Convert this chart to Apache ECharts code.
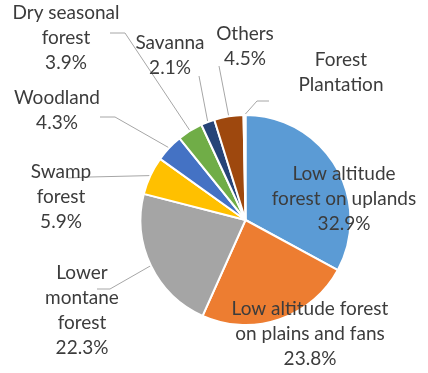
<!DOCTYPE html>
<html>
<head>
<meta charset="utf-8">
<script src="https://cdn.jsdelivr.net/npm/echarts@6/dist/echarts.min.js"></script>
<style>html,body{margin:0;padding:0;background:#fff;}#c{width:428px;height:373px;}</style>
</head>
<body>
<div id="c"></div>
<script>
const categories = ['Low altitude forest on uplands','Low altitude forest on plains and fans','Lower montane forest','Swamp forest','Woodland','Dry seasonal forest','Savanna','Others','Forest Plantation'];
const values = [32.9, 23.8, 22.3, 5.9, 4.3, 3.9, 2.1, 4.5, 0.3];
const labelTexts = ['Low altitude\nforest on uplands','Low altitude forest\non plains and fans','Lower\nmontane\nforest','Swamp\nforest','Woodland','Dry seasonal\nforest','Savanna','Others','Forest\nPlantation'];
const showPercent = [true,true,true,true,true,true,true,true,false];
const colors = ['#5B9BD5','#ED7D31','#A5A5A5','#FFC000','#4472C4','#70AD47','#264478','#9E480E','#636363'];
// label placement (text centre) and leader line bend/end points
const labelPos = [[344,199],[310,334],[82,310],[61,197],[57,110],[66,38],[170,55],[245,46],[341,72]];
const leader = [null,null,[[110,289],[97,289]],[[90,177],[68,178]],[[115,117],[100,117]],[[125,33],[110,33]],[[199,76],[199,76]],[[219,66],[219,66]],[[257,101],[269,101]]];

const chart = echarts.init(document.getElementById('c'), null, {renderer:'canvas'});
const data = categories.map((n,i)=>({
  name:n, value:values[i],
  itemStyle:{color:colors[i]},
  labelLine:{show: leader[i]!==null}
}));
chart.setOption({
  animation:false,
  series:[{
    type:'pie',
    center:[245.5,220],
    radius:105,
    startAngle:90,
    clockwise:true,
    avoidLabelOverlap:false,
    itemStyle:{borderColor:'#fff',borderWidth:2},
    data:data,
    label:{
      show:true,
      position:'outside',
      fontFamily:'Lato',
      fontSize:19,
      lineHeight:25,
      color:'#3c3c3c',
      align:'center',
      formatter:p=>labelTexts[p.dataIndex]+(showPercent[p.dataIndex]?'\n'+values[p.dataIndex].toFixed(1)+'%':'')
    },
    labelLine:{show:true,lineStyle:{color:'#A6A6A6',width:1},length:10,length2:10},
    labelLayout:function(params){
      const i=params.dataIndex;
      const r={x:labelPos[i][0],y:labelPos[i][1],align:'center',verticalAlign:'middle'};
      if(leader[i] && params.labelLinePoints){
        r.labelLinePoints=[params.labelLinePoints[0],leader[i][0],leader[i][1]];
      }
      return r;
    }
  }]
});
</script>
</body>
</html>
